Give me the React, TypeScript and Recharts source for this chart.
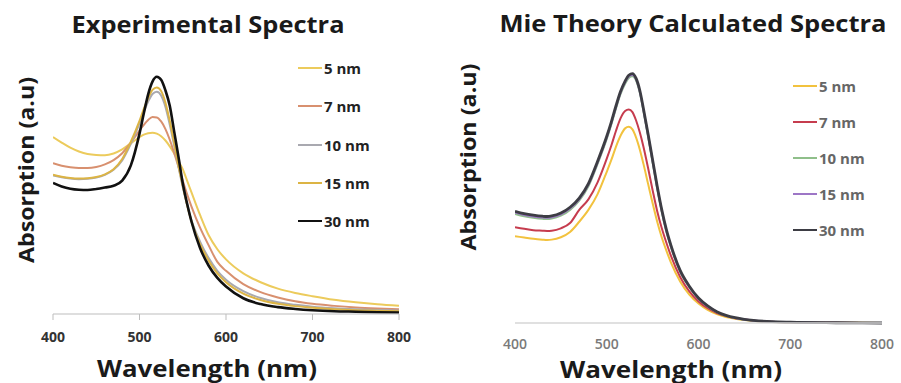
import React from 'react';
import { LineChart, Line, XAxis, YAxis, Legend } from 'recharts';

const FONT = '"Open Sans", "DejaVu Sans", sans-serif';

// ---------- Experimental spectra (left) ----------
const LEFT_WL = [400, 410, 420, 430, 440, 450, 460, 470, 480, 490, 500, 505, 510, 515, 520, 525, 530, 535, 540, 545, 550, 555, 560, 570, 580, 590, 600, 620, 640, 660, 680, 700, 725, 750, 775, 800];
const EXP_5 = [69.7, 67.5, 65.5, 64, 63, 62.6, 62.5, 63.2, 64.8, 67.2, 69.6, 70.6, 71.2, 71.4, 71.0, 70, 68.3, 66, 63.3, 60.2, 57, 52.5, 48, 39, 31, 25.5, 21.5, 16, 12.5, 10, 8.3, 7, 5.6, 4.6, 3.8, 3.2];
const EXP_7 = [59.4, 58.4, 57.8, 57.5, 57.5, 57.9, 58.9, 60.6, 63.3, 67.5, 72.2, 74.5, 76.4, 77.6, 77.4, 75.8, 72.8, 68.6, 63.5, 58, 52.5, 47.2, 42.4, 34, 27, 20.5, 17, 11.8, 8.6, 6.5, 5, 4, 3.2, 2.6, 2.2, 1.9];
const EXP_10 = [54.5, 53.8, 53.3, 53.1, 53.2, 53.7, 54.8, 56.8, 60.5, 67, 75, 79.5, 83.6, 86.6, 87.5, 86, 81.5, 74.5, 66.5, 58, 50, 43, 37, 28.5, 22, 17, 13.5, 9, 6.3, 4.6, 3.6, 2.9, 2.3, 1.9, 1.6, 1.4];
const EXP_15 = [54.8, 54, 53.5, 53.3, 53.4, 53.9, 55, 57, 61, 67.8, 76, 80.8, 85, 88.2, 89.2, 87.8, 83.2, 76, 67.5, 58.5, 50.5, 43, 36.5, 27.5, 21, 16, 12.5, 8, 5.5, 4, 3.1, 2.5, 1.9, 1.5, 1.3, 1.1];
const EXP_30 = [51.6, 50.2, 49.3, 48.9, 48.8, 49.2, 49.8, 50.5, 52.5, 58.5, 71, 79, 86.5, 91.5, 93.4, 92.2, 88, 82, 72, 62, 51.5, 43.5, 36.5, 26, 19, 14.2, 10.8, 6.2, 3.9, 2.7, 2, 1.5, 1.1, 0.9, 0.7, 0.6];

// ---------- Mie theory spectra (right) ----------
const RIGHT_WL = [400, 410, 420, 430, 435, 440, 450, 460, 470, 480, 490, 500, 505, 510, 515, 520, 524, 528, 532, 536, 540, 545, 550, 555, 560, 565, 570, 580, 590, 600, 610, 620, 630, 640, 650, 660, 680, 700, 750, 800];
const MIE_5 = [33, 32.5, 32, 31.7, 31.6, 31.7, 32.6, 34.6, 38.5, 43, 49, 57.5, 62, 67, 71.2, 74, 74.6, 73.6, 70.5, 66, 60.5, 53, 45.5, 38.5, 32.5, 27.5, 23, 15.8, 10.8, 7.4, 5, 3.4, 2.3, 1.6, 1.1, 0.8, 0.4, 0.2, 0.1, 0];
const MIE_7 = [36.4, 35.8, 35.3, 35.1, 35, 35.1, 36, 38, 43, 47, 53.5, 62.5, 67.5, 73, 77.8, 80.6, 81.2, 80.2, 77, 72.5, 67, 59, 50.5, 42.5, 36, 30.5, 25.5, 17.5, 12, 8.2, 5.6, 3.8, 2.6, 1.8, 1.3, 0.9, 0.45, 0.25, 0.1, 0];
const MIE_10 = [41.5, 40.6, 40, 39.6, 39.5, 39.7, 40.8, 43, 46.5, 52, 60.5, 70, 75.5, 81.5, 87, 91, 93.2, 93.8, 92.2, 87.6, 80.6, 71, 61, 51, 42.2, 34.7, 28.8, 19.5, 13.6, 9.2, 6.3, 4.1, 2.7, 1.85, 1.25, 0.9, 0.45, 0.25, 0.1, 0];
const MIE_15 = [42, 41.1, 40.5, 40.1, 40, 40.2, 41.3, 43.5, 47, 52.5, 61, 70.5, 76, 82, 87.5, 91.5, 93.7, 94.3, 92.6, 88, 81, 71.5, 61.5, 51.5, 42.6, 35.1, 29.1, 19.7, 13.8, 9.3, 6.4, 4.2, 2.8, 1.9, 1.3, 0.95, 0.45, 0.25, 0.1, 0];
const MIE_30 = [42.5, 41.6, 41, 40.6, 40.5, 40.7, 41.8, 44, 47.5, 53, 61.5, 71, 76.5, 82.5, 88, 92, 94.2, 94.8, 93, 88.5, 81.5, 72, 62, 52, 43, 35.5, 29.5, 20, 14, 9.5, 6.5, 4.3, 2.9, 2, 1.4, 1, 0.5, 0.3, 0.1, 0];

const X_TICKS = [400, 500, 600, 700, 800];
const SERIES_NAMES = ['5 nm', '7 nm', '10 nm', '15 nm', '30 nm'];

const leftData = LEFT_WL.map((wl, i) => ({ wl, s5: EXP_5[i], s7: EXP_7[i], s10: EXP_10[i], s15: EXP_15[i], s30: EXP_30[i] }));
const rightData = RIGHT_WL.map((wl, i) => ({ wl, s5: MIE_5[i], s7: MIE_7[i], s10: MIE_10[i], s15: MIE_15[i], s30: MIE_30[i] }));

const LEFT_COLORS = ['#eccb5c', '#d8906f', '#a9a9b0', '#dcb444', '#111111'];
const RIGHT_COLORS = ['#f2c23e', '#c63c4e', '#8fbf8a', '#9d76c6', '#3d3d44'];
const KEYS = ['s5', 's7', 's10', 's15', 's30'];

const makeLegend = (rowH: number, textColor: string) => (props: any) => {
  const payload = [...(props.payload || [])].sort(
    (a: any, b: any) => SERIES_NAMES.indexOf(a.value) - SERIES_NAMES.indexOf(b.value)
  );
  return (
    <div style={{ fontFamily: FONT }}>
      {payload.map((e: any) => (
        <div key={e.value} style={{ height: rowH, display: 'flex', alignItems: 'center' }}>
          <span style={{ display: 'inline-block', width: 24, height: 2, background: e.color }} />
          <span style={{ marginLeft: 2, fontSize: 15, fontWeight: 700, color: textColor }}>{e.value}</span>
        </div>
      ))}
    </div>
  );
};

export default function App() {
  return (
    <div style={{ position: 'absolute', left: 0, top: 0, width: 901, height: 383, background: '#fff', overflow: 'hidden' }}>
      <div style={{ position: 'absolute', left: 0, top: 0 }}>
        <LineChart width={450} height={383} data={leftData} margin={{ top: 60, right: 51, bottom: 39, left: 53 }}>
          <XAxis
            dataKey="wl"
            type="number"
            domain={[400, 800]}
            ticks={X_TICKS}
            allowDataOverflow
            height={30}
            stroke="#bdbdbd"
            tickSize={6}
            tickMargin={12}
            tick={{ fill: '#333', fontSize: 14, fontWeight: 700, fontFamily: FONT }}
          />
          <YAxis hide domain={[0, 100]} />
          {KEYS.map((k, i) => (
            <Line key={k} dataKey={k} name={SERIES_NAMES[i]} type="monotone" stroke={LEFT_COLORS[i]} strokeWidth={i === 4 ? 2.6 : 2} dot={false} isAnimationActive={false} />
          ))}
          <Legend layout="vertical" align="center" verticalAlign="middle" itemSorter={null as any} content={makeLegend(38.3, '#222')} wrapperStyle={{ left: 298, top: 49, width: 'auto', height: 'auto' }} />
        </LineChart>
      </div>
      <div style={{ position: 'absolute', left: 450, top: 0 }}>
        <LineChart width={451} height={383} data={rightData} margin={{ top: 60, right: 19, bottom: 30, left: 65 }}>
          <XAxis
            dataKey="wl"
            type="number"
            domain={[400, 800]}
            ticks={X_TICKS}
            allowDataOverflow
            height={30}
            stroke="#d6d6d6"
            strokeWidth={1.5}
            tickLine={false}
            tickSize={0}
            tickMargin={16}
            tick={{ fill: '#7a7a7a', fontSize: 14, fontWeight: 600, fontFamily: FONT }}
          />
          <YAxis hide domain={[0, 100]} />
          {KEYS.map((k, i) => (
            <Line key={k} dataKey={k} name={SERIES_NAMES[i]} type="monotone" stroke={RIGHT_COLORS[i]} strokeWidth={i === 4 ? 2.8 : 2} dot={false} isAnimationActive={false} />
          ))}
          <Legend layout="vertical" align="center" verticalAlign="middle" itemSorter={null as any} content={makeLegend(36, '#666')} wrapperStyle={{ left: 343, top: 68, width: 'auto', height: 'auto' }} />
        </LineChart>
      </div>
      <svg width={901} height={383} style={{ position: 'absolute', left: 0, top: 0, pointerEvents: 'none' }}>
        <g fontFamily={FONT} fontWeight={700} fill="#1a1a1a">
          <text x={208} y={24} textAnchor="middle" dominantBaseline="central" fontSize={23} textLength={273} lengthAdjust="spacingAndGlyphs">Experimental Spectra</text>
          <text x={693} y={23} textAnchor="middle" dominantBaseline="central" fontSize={23} textLength={387} lengthAdjust="spacingAndGlyphs">Mie Theory Calculated Spectra</text>
          <text x={207} y={367} textAnchor="middle" dominantBaseline="central" fontSize={24} textLength={220} lengthAdjust="spacingAndGlyphs">Wavelength (nm)</text>
          <text x={671} y={368} textAnchor="middle" dominantBaseline="central" fontSize={24} textLength={222} lengthAdjust="spacingAndGlyphs">Wavelength (nm)</text>
          <text transform="translate(25,170) rotate(-90)" textAnchor="middle" dominantBaseline="central" fontSize={22} textLength={186} lengthAdjust="spacingAndGlyphs">Absorption (a.u)</text>
          <text transform="translate(467,157) rotate(-90)" textAnchor="middle" dominantBaseline="central" fontSize={22} textLength={187} lengthAdjust="spacingAndGlyphs">Absorption (a.u)</text>
        </g>
      </svg>
    </div>
  );
}
